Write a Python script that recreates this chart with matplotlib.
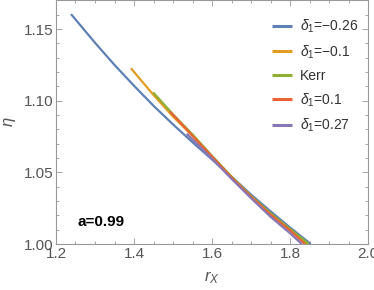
import matplotlib
matplotlib.use("Agg")
import matplotlib.pyplot as plt
from matplotlib.ticker import MultipleLocator, FormatStrFormatter

plt.rcParams['font.family'] = ['Liberation Sans', 'DejaVu Sans']
plt.rcParams['mathtext.fontset'] = 'custom'
plt.rcParams['mathtext.it'] = 'Liberation Sans:italic'
plt.rcParams['mathtext.rm'] = 'Liberation Sans'

# curves: r_X vs eta
rx_m026 = [1.2385, 1.30, 1.35, 1.40, 1.45, 1.50, 1.55, 1.60, 1.65, 1.70, 1.75, 1.80, 1.853]
eta_m026 = [1.1605, 1.1405, 1.125, 1.1105, 1.0965, 1.0835, 1.071, 1.059, 1.047, 1.0345, 1.0228, 1.0115, 1.0]

rx_m01 = [1.392, 1.45, 1.50, 1.55, 1.60, 1.65, 1.70, 1.75, 1.80, 1.843]
eta_m01 = [1.1227, 1.104, 1.089, 1.0755, 1.061, 1.0465, 1.033, 1.021, 1.0095, 1.0]

rx_kerr = [1.449, 1.50, 1.55, 1.60, 1.65, 1.70, 1.75, 1.80, 1.848]
eta_kerr = [1.1059, 1.0905, 1.0765, 1.0615, 1.047, 1.0335, 1.0215, 1.0105, 1.0]

rx_p01 = [1.492, 1.55, 1.60, 1.65, 1.70, 1.75, 1.80, 1.838]
eta_p01 = [1.0925, 1.0755, 1.061, 1.0465, 1.033, 1.0205, 1.0095, 1.0]

rx_p027 = [1.535, 1.60, 1.65, 1.70, 1.75, 1.80, 1.830]
eta_p027 = [1.077, 1.0595, 1.0455, 1.032, 1.019, 1.0075, 1.0]

labels = [r'$\delta_1$=−0.26', r'$\delta_1$=−0.1', 'Kerr', r'$\delta_1$=0.1', r'$\delta_1$=0.27']
colors = ['#5E81B5', '#E19C24', '#8FB032', '#EB6235', '#8778B3']

fig = plt.figure(figsize=(3.74, 2.90), dpi=100)
ax = fig.add_axes([0.1497, 0.1586, 0.8345, 0.8397])

series = [(rx_m026, eta_m026), (rx_m01, eta_m01), (rx_kerr, eta_kerr),
          (rx_p01, eta_p01), (rx_p027, eta_p027)]
for (xs, ys), lab, c in zip(series, labels, colors):
    ax.plot(xs, ys, color=c, lw=1.6, label=lab, solid_capstyle='butt')

ax.set_xlim(1.2, 2.0)
ax.set_ylim(1.0, 1.17)
ax.xaxis.set_major_locator(MultipleLocator(0.2))
ax.xaxis.set_minor_locator(MultipleLocator(0.05))
ax.yaxis.set_major_locator(MultipleLocator(0.05))
ax.yaxis.set_minor_locator(MultipleLocator(0.01))
ax.xaxis.set_major_formatter(FormatStrFormatter('%.1f'))
ax.yaxis.set_major_formatter(FormatStrFormatter('%.2f'))

grey = '#999999'
for s in ax.spines.values():
    s.set_color(grey)
    s.set_linewidth(0.8)
ax.tick_params(which='both', direction='in', top=True, right=True, color=grey,
               labelcolor='#555555', labelsize=11, width=0.6)
ax.tick_params(which='major', length=4, pad=2)
ax.tick_params(which='minor', length=2)

ax.set_xlabel(r'$r_X$', fontsize=12, color='#555555', labelpad=6)
ax.set_ylabel(r'$\eta$', fontsize=12, color='#555555', labelpad=4)

ax.text(0.0705, 0.09, 'a=0.99', transform=ax.transAxes, fontsize=11,
        fontweight='bold', va='center', ha='left')

leg = ax.legend(loc='upper right', bbox_to_anchor=(1.0, 0.97), frameon=False,
                fontsize=10, handlelength=1.4, handletextpad=0.6,
                labelspacing=0.6, borderaxespad=0.3)
for t in leg.get_texts():
    t.set_color('#333333')
for l in leg.get_lines():
    l.set_linewidth(2.2)

fig.savefig('out.png', dpi=100)
